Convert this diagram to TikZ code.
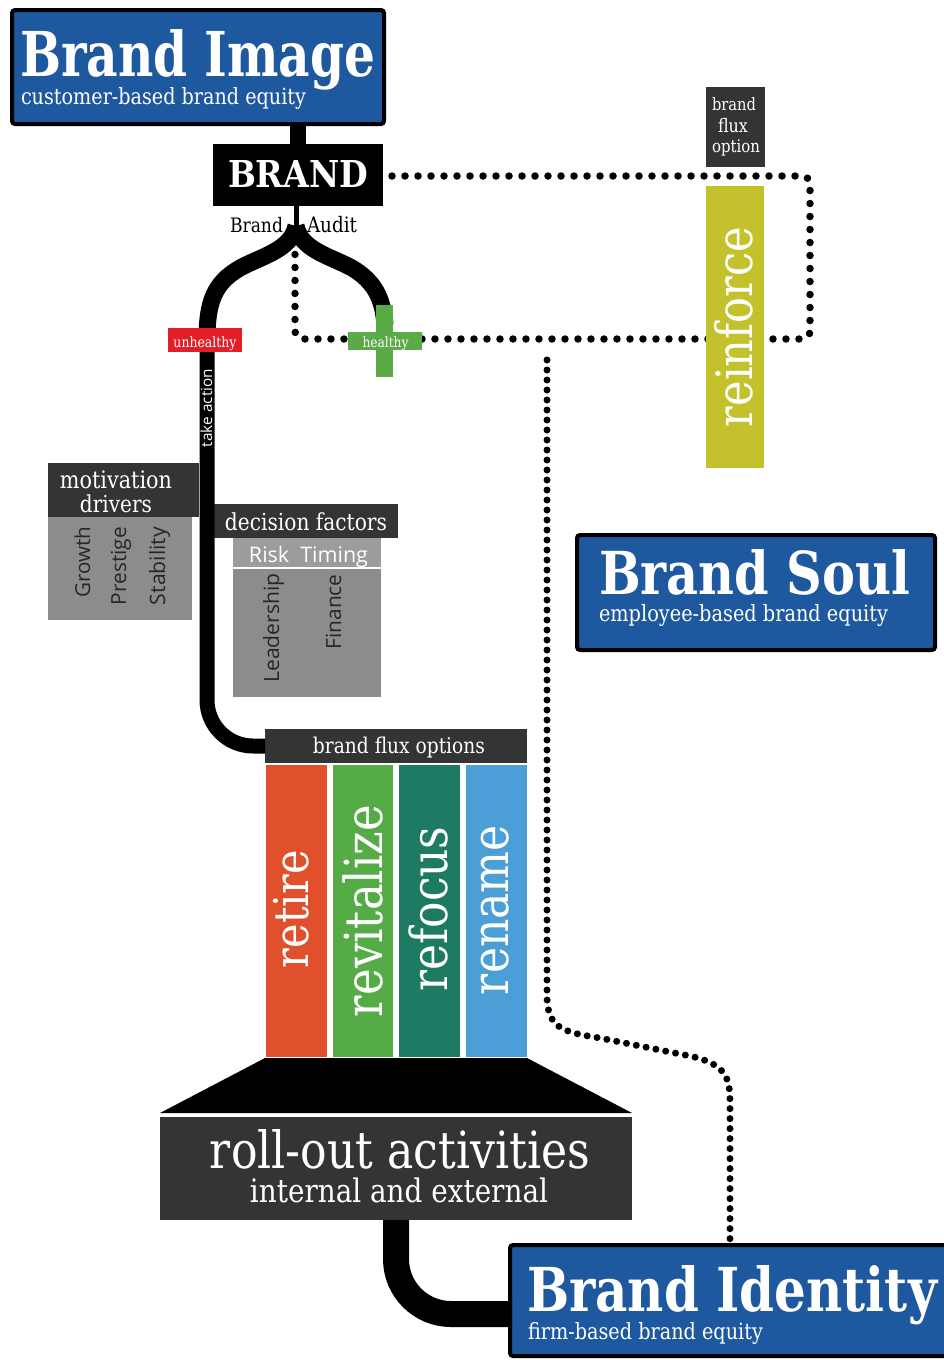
\documentclass[tikz,border=0pt]{standalone}
\usepackage{fontspec}
\usepackage{graphicx}
\setmainfont{DejaVu Serif}[FakeStretch=0.86]
\newfontfamily\sansf{Open Sans}
\usetikzlibrary{calc}
\newcommand{\fw}[2]{\resizebox{#1pt}{!}{#2}}
\newcommand{\fwh}[3]{\resizebox{#1pt}{#2pt}{#3}}
\definecolor{bblue}{RGB}{30,88,158}
\definecolor{dgray}{RGB}{52,52,52}
\definecolor{mgray}{RGB}{140,140,140}
\definecolor{lgray}{RGB}{156,156,156}
\definecolor{ured}{RGB}{226,30,38}
\definecolor{hgreen}{RGB}{90,170,70}
\definecolor{olive}{RGB}{196,194,44}
\definecolor{cretire}{RGB}{224,80,45}
\definecolor{crevit}{RGB}{85,172,71}
\definecolor{crefoc}{RGB}{30,122,98}
\definecolor{crename}{RGB}{75,159,214}
\definecolor{gtext}{RGB}{38,38,38}
\tikzset{
  boxa/.style={inner sep=0pt, outer sep=0pt, anchor=north west},
  bluebox/.style={boxa, fill=bblue, draw=black, line width=4pt, rounded corners=3pt},
  wt/.style={text=white, inner sep=0pt, outer sep=0pt},
  bt/.style={text=black, inner sep=0pt, outer sep=0pt},
  gt/.style={text=gtext, inner sep=0pt, outer sep=0pt, font=\sansf},
  pipe/.style={draw=black, line width=#1},
  dotline/.style={draw=black, line width=7.5pt, line cap=round, dash pattern=on 0pt off 13pt},
  fdotline/.style={draw=black, line width=7pt, line cap=round, dash pattern=on 0pt off 10pt},
}
\begin{document}
\begin{tikzpicture}[x=1pt,y=-1pt]
\useasboundingbox (0,0) rectangle (944,1360);
\clip (0,0) rectangle (944,1360);

% ---- boxes (geometry) ----
\node[bluebox, minimum width=372pt, minimum height=114pt] (bimg) at (12,10) {};
\node[boxa, fill=black, minimum width=170pt, minimum height=62pt] (brand) at (213,144) {};
\node[boxa, fill=dgray, minimum width=59pt, minimum height=80pt] (bfo) at (706,87) {};
\node[bluebox, minimum width=358pt, minimum height=115pt] (soul) at (577,535) {};
\node[bluebox, minimum width=450pt, minimum height=111pt] (ident) at (510,1245) {};

% ---- coordinates ----
\coordinate (apex) at (296,226);
\coordinate (d1) at (392,176);
\coordinate (d2) at (810,176);
\coordinate (d3) at (810,339);
\coordinate (d4) at (295,339);
\coordinate (d5) at (295,245);
\coordinate (e1) at (547,360);
\coordinate (e2) at (730,1240);
\coordinate (lb) at (207,330);
\coordinate (idin) at (512,1314);

% ---- dotted connectors ----
\draw[dotline, rounded corners=8pt] (d1) -- (d2) -- (d3) -- (d4) -- (d5);
\draw[fdotline] (e1) -- (547,995) .. controls (547,1028) and (562,1032) .. (600,1038)
   -- (690,1056) .. controls (726,1064) and (730,1078) .. (730,1102) -- (e2);

% ---- thick connectors ----
\draw[pipe=16pt] (brand.north) -- (brand.north |- bimg.south);
\draw[pipe=5pt] (apex |- brand.south) -- (apex);
\draw[pipe=17pt] (apex) .. controls (291,250) and (262,256) .. (240,268)
   .. controls (214,283) and (207,302) .. (207,340);
\draw[pipe=17pt] (apex) .. controls (301,250) and (330,256) .. (352,268)
   .. controls (374,281) and (383,298) .. (385,325);

% other boxes
\node[boxa, fill=olive, minimum width=58pt, minimum height=282pt] (reinf) at (706,186) {};
\node[boxa, fill=dgray, minimum width=151pt, minimum height=54pt] (motiv) at (48,463) {};
\node[boxa, fill=mgray, minimum width=144pt, minimum height=103pt] (motivb) at (48,517) {};
\node[boxa, fill=dgray, minimum width=185pt, minimum height=34pt] (dec) at (213,504) {};
\node[boxa, fill=lgray, minimum width=148pt, minimum height=29pt] (decs) at (233,538) {};
\node[boxa, fill=mgray, minimum width=148pt, minimum height=128pt] (decb) at (233,569) {};
\node[boxa, fill=dgray, minimum width=262pt, minimum height=34pt] (flux) at (265,729) {};
\node[boxa, fill=cretire, minimum width=61pt, minimum height=292pt] (retire) at (266,765) {};
\node[boxa, fill=crevit, minimum width=60pt, minimum height=292pt] (revit) at (333,765) {};
\node[boxa, fill=crefoc, minimum width=61pt, minimum height=292pt] (refoc) at (399,765) {};
\node[boxa, fill=crename, minimum width=61pt, minimum height=292pt] (rename) at (466,765) {};
\node[boxa, fill=dgray, minimum width=472pt, minimum height=103pt] (roll) at (160,1117) {};
\fill[black] (265,1058) -- (527,1058) -- (632,1113) -- (160,1113) -- cycle;

\draw[pipe=15pt, rounded corners=46pt] (lb) |- (flux.west);
\draw[pipe=26pt, rounded corners=55pt] (roll.south) |- (idin);

% unhealthy / healthy
\node[inner sep=0pt, fill=ured, minimum width=74pt, minimum height=24pt] (unh) at (205,340) {};
\node[inner sep=0pt, fill=hgreen, minimum width=17pt, minimum height=72pt] (hv) at (384.5,341) {};
\node[inner sep=0pt, fill=hgreen, minimum width=74pt, minimum height=18pt] (hh) at (385,341) {};

% ---- texts ----
\node[wt, anchor=base west] (tbi) at (20,76) {\fwh{355}{47}{\bfseries Brand Image}};
\node[wt, anchor=base west] (sbi) at (21,104) {\fw{285}{customer-based brand equity}};
\node[wt, anchor=base west] (tbr) at (228,187) {\fwh{140}{27}{\bfseries BRAND}};
\node[bt, anchor=base west] (lbrand) at (230,232) {\fw{53}{Brand}};
\node[bt, anchor=base west] (laudit) at (307,232) {\fw{50}{Audit}};
\node[wt, anchor=base west] (tso) at (599,594) {\fwh{311}{45}{\bfseries Brand Soul}};
\node[wt, anchor=base west] (sso) at (599,621) {\fw{289}{employee-based brand equity}};
\node[wt, anchor=base west] (tid) at (527,1311) {\fwh{410}{46}{\bfseries Brand Identity}};
\node[wt, anchor=base west] (sid) at (528,1339) {\fw{235}{firm-based brand equity}};
\node[wt, anchor=base] (tunh) at (205,347) {\fw{63}{unhealthy}};
\node[wt, anchor=base] (thea) at (385.5,347) {\fw{46}{healthy}};
\node[wt, anchor=base, rotate=90, font=\sansf] (ttake) at (212,408) {\fw{78}{take action}};
\node[wt, anchor=base] (tmot1) at (116,488) {\fw{112}{motivation}};
\node[wt, anchor=base] (tmot2) at (116,512) {\fw{72}{drivers}};
\node[gt, anchor=base, rotate=90] (tgro) at (90,562) {\fw{71}{Growth}};
\node[gt, anchor=base, rotate=90] (tpre) at (126,566) {\fw{78}{Prestige}};
\node[gt, anchor=base, rotate=90] (tsta) at (165,566) {\fw{78}{Stability}};
\node[wt, anchor=base] (tdec) at (306,530) {\fw{162}{decision factors}};
\node[wt, anchor=base, font=\sansf] (trt) at (308.5,562) {\fw{119}{Risk\ \ Timing}};
\node[gt, anchor=base, rotate=90] (tlea) at (279,628) {\fw{109}{Leadership}};
\node[gt, anchor=base, rotate=90] (tfin) at (341,612) {\fw{75}{Finance}};
\node[wt, anchor=base] (tflux) at (399,753) {\fw{172}{brand flux options}};
\node[wt, anchor=base, rotate=90] (tret) at (308,909) {\fw{118}{retire}};
\node[wt, anchor=base, rotate=90] (trev) at (382,911) {\fw{212}{revitalize}};
\node[wt, anchor=base, rotate=90] (tref) at (447,909) {\fw{165}{refocus}};
\node[wt, anchor=base, rotate=90] (tren) at (508,910) {\fw{170}{rename}};
\node[wt, anchor=base, rotate=90] (trei) at (752,327) {\fw{200}{reinforce}};
\node[wt, anchor=base] (tbf1) at (734,110) {\fw{44}{brand}};
\node[wt, anchor=base] (tbf2) at (733,132) {\fw{30}{flux}};
\node[wt, anchor=base] (tbf3) at (736,152) {\fw{48}{option}};
\node[wt, anchor=base] (troll) at (400,1168) {\fw{380}{roll-out activities}};
\node[wt, anchor=base] (tint) at (399,1202) {\fw{298}{internal and external}};
\end{tikzpicture}
\end{document}
